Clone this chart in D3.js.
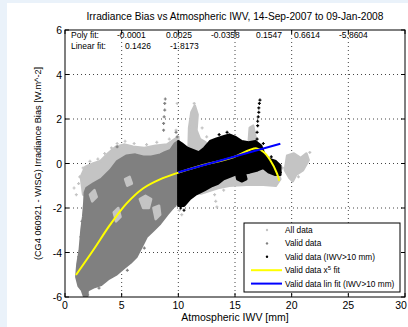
<!DOCTYPE html>
<html><head><meta charset="utf-8">
<script src="https://cdn.jsdelivr.net/npm/d3@7"></script>
<style>
html,body{margin:0;padding:0;background:#eaf2fa;}
svg{display:block;}
text{font-family:"Liberation Sans",Arial,Helvetica,sans-serif;fill:#000;}
</style></head>
<body>
<svg id="c" width="408" height="327"></svg>
<script>
// ---- data ----
const title = "Irradiance Bias vs Atmospheric IWV, 14-Sep-2007 to 09-Jan-2008";
const xLabel = "Atmospheric IWV [mm]";
const yLabel = "(CG4 060921 - WISG) Irradiance Bias [W.m^-2]";
const xTicks = [0, 5, 10, 15, 20, 25, 30];
const yTicks = [-6, -4, -2, 0, 2, 4, 6];
const polyLabel = "Poly fit:";
const polyCoefs = ["-0.0001", "0.0025", "-0.0358", "0.1547", "0.6614", "-5.8604"];
const linLabel = "Linear fit:";
const linCoefs = ["0.1426", "-1.8173"];

// dense cloud outlines (data units [IWV, bias])
const allDataRegions = [
  [[1.6,-1.4],[1.4,-0.6],[1.8,-0.15],[2.5,0.0],[3.1,0.1],[3.8,0.45],[4.5,0.75],[5.2,0.85],[6.0,0.75],[7.0,0.7],[8.0,0.8],[9.0,0.85],[10,1.2],
   [10,-1.0],[9.0,-1.0],[6.0,-1.0],[4.0,-1.0],[2.0,-1.5]],
  [[10.3,-1.3],[12,-1.35],[13.5,-1.1],[14.5,-1.0],[16,-0.95],[17.5,-0.95],[18.6,-1.0],[19.0,-0.7],[18.7,-0.2],[17,-0.2],[15.5,-0.1],[14,-0.2],[12,-0.4],[10.3,-0.5]],
  [[10.9,0.6],[10.95,1.6],[11.15,2.3],[11.45,2.6],[11.7,2.2],[11.6,1.5],[11.9,1.1],[12.4,0.95],[12.8,0.6]],
  [[19.4,-0.3],[19.6,0.35],[20.2,0.45],[20.8,0.25],[21.3,0.45],[21.5,0.15],[21.0,-0.3],[20.4,-0.5],[20.1,-0.8],[19.8,-0.65]],
  [[16.2,0.9],[16.3,1.6],[16.6,1.7],[16.8,1.2],[16.9,0.9]]
];
const validRegions = [
  [[1.7,-6.0],[1.95,-6.0],[2.0,-5.7],[2.6,-5.55],[3.2,-5.45],[3.8,-5.2],[4.5,-5.0],[5.2,-4.7],[5.8,-4.45],[6.3,-4.2],[6.8,-3.7],[7.2,-3.3],[7.8,-3.0],[8.4,-2.7],[9.0,-2.3],[9.5,-2.0],[10.0,-1.7],
   [10.0,1.0],[9.7,0.9],[9.3,0.6],[8.8,0.5],[8.4,0.4],[7.6,0.3],[6.9,0.3],[6.2,0.4],[5.4,0.35],[4.6,0.1],[4.0,-0.3],[3.2,-0.7],[2.5,-0.9],[1.9,-1.1],
   [1.75,-1.3],[1.7,-1.8],[1.6,-2.4],[1.45,-3.0],[1.3,-3.9],[1.1,-4.5],[1.0,-5.1],[1.2,-5.5],[1.5,-5.7]]
];
const validGaps = [
  [[6.6,-1.6],[7.1,-1.45],[7.6,-1.6],[7.4,-2.0],[6.9,-2.0]],
  [[7.8,-2.0],[8.3,-1.9],[8.4,-2.3],[8.0,-2.5]],
  [[5.3,-0.7],[5.7,-0.6],[5.9,-0.9],[5.5,-1.0]],
  [[4.3,-2.2],[4.7,-2.0],[4.9,-2.4],[4.5,-2.6]],
  [[2.2,-1.4],[2.6,-1.2],[2.8,-1.5],[2.4,-1.7]]
];
const wetRegions = [
  [[10.0,1.0],[10.3,0.9],[10.8,0.7],[11.3,0.6],[11.8,0.5],[12.3,0.7],[12.8,1.0],[13.3,1.1],[13.9,1.2],[14.5,1.3],[15.0,1.2],[15.6,1.0],[16.2,0.95],[16.8,1.0],[17.3,0.8],[17.6,0.4],[18.0,0.2],[18.6,0.1],[19.0,-0.1],
   [19.0,-0.5],[18.5,-0.5],[18.0,-0.4],[17.5,-0.2],[17.0,-0.3],[16.3,-0.4],[15.7,-0.45],[15.0,-0.5],[14.5,-0.6],[14.0,-0.7],[13.5,-0.9],[13.0,-1.0],[12.3,-1.2],[11.5,-1.4],[11.0,-1.6],[10.5,-1.9],[10.0,-1.9]],
  [[15.1,-0.45],[15.4,-0.4],[15.9,-0.5],[16.0,-0.7],[15.6,-0.8],[15.2,-0.7]]
];
const allDataPoints = [[0.8,-1.1],[1.0,-1.4],[1.2,-0.9],[1.3,-0.6],[1.6,-0.2],[2.2,0.1],[2.9,0.2],[3.5,0.45],[4.1,0.7],[4.6,0.9],[5.3,1.0],[6.1,0.9],[7.2,0.85],[8.1,0.95],[9.2,1.1],[9.8,1.5],[10.1,-2.1],[10.3,-2.3],[13.2,-1.4],[13.3,-1.7],[13.4,-1.95],[14.0,-1.2],[12.1,1.6],[12.5,1.2],[19.2,-0.2],[21.6,0.5],[20.6,-0.6],[9.9,2.7],[11.4,2.7],[8.9,-2.2],[9.6,-1.9],[7.6,-2.9]];
const validPoints = [[8.7,1.5],[8.7,1.8],[8.75,2.1],[8.8,2.4],[8.8,2.7],[8.85,2.9],[4.6,0.75],[2.0,-5.9],[1.8,-5.8],[3.0,-5.6],[5.5,-4.8],[7.0,-3.8],[9.7,-1.9],[9.9,1.2],[9.8,1.4],[1.5,-2.6],[1.4,-3.3],[1.2,-4.2]];
const wetPoints = [[16.95,1.1],[16.95,1.4],[17.0,1.7],[17.0,1.9],[17.05,2.1],[17.1,2.3],[17.1,2.5],[17.15,2.7],[17.2,2.85],[18.9,-0.2],[19.0,-0.4],[10.2,-2.0],[10.5,-2.1],[15.3,-0.6],[15.6,-0.7],[14.3,1.4],[13.6,1.3],[17.5,0.9],[18.2,0.3]];
// fitted curves
const polyFitCurve = [[0.97,-5.01],[2.5,-3.89],[3.97,-2.76],[5.44,-1.79],[6.91,-1.11],[8.38,-0.71],[10.0,-0.41],[11.9,-0.11],[14.85,0.28],[16.3,0.61],[16.9,0.68],[17.5,0.53],[18.1,0.16],[18.7,-0.44],[18.9,-0.77]];
const linFitLine = [[10.0,-0.39],[19.0,0.89]];
const legendLabels = ["All data", "Valid data", "Valid data (IWV>10 mm)", "Valid data x^5 fit", "Valid data lin fit (IWV>10 mm)"];

// ---- drawing ----
const svg = d3.select("#c");
const W = 408, H = 327;
const m = {l:65, r:405, t:30, b:297};
svg.append("rect").attr("x",7).attr("y",3).attr("width",W-7).attr("height",H-3).attr("fill","#fff");

const x = d3.scaleLinear().domain([0,30]).range([m.l, m.r]);
const y = d3.scaleLinear().domain([-6,6]).range([m.b, m.t]);

const C_ALL = "#c4c4c4", C_VALID = "#808080", C_WET = "#000";

// grid
const g = svg.append("g");
g.selectAll(".gx").data(xTicks.slice(1,-1)).join("line")
  .attr("x1",d=>x(d)).attr("x2",d=>x(d)).attr("y1",m.t).attr("y2",m.b)
  .attr("stroke","#444").attr("stroke-width",1).attr("stroke-dasharray","1,3");
g.selectAll(".gy").data(yTicks.slice(1,-1)).join("line")
  .attr("y1",d=>y(d)).attr("y2",d=>y(d)).attr("x1",m.l).attr("x2",m.r)
  .attr("stroke","#444").attr("stroke-width",1).attr("stroke-dasharray","1,3");

svg.append("clipPath").attr("id","pc").append("rect")
  .attr("x",m.l).attr("y",m.t).attr("width",m.r-m.l).attr("height",m.b-m.t);
const plot = svg.append("g").attr("clip-path","url(#pc)");
const area = d3.line().x(d=>x(d[0])).y(d=>y(d[1])).curve(d3.curveLinearClosed);
function regions(data, col){
  plot.append("g").selectAll("path").data(data).join("path")
    .attr("d",area).attr("fill",col).attr("stroke",col).attr("stroke-width",2.5).attr("stroke-linejoin","round");
}
function points(data, col){
  plot.append("g").selectAll("path").data(data).join("path")
    .attr("d",d=>`M${x(d[0])-1.5},${y(d[1])}h3M${x(d[0])},${y(d[1])-1.5}v3`)
    .attr("stroke",col).attr("stroke-width",1.2);
}
regions(allDataRegions, C_ALL);
points(allDataPoints, C_ALL);
regions(validRegions, C_VALID);
regions(validGaps, C_ALL);
points(validPoints, C_VALID);
regions(wetRegions, C_WET);
points(wetPoints, C_WET);

const ln = d3.line().x(d=>x(d[0])).y(d=>y(d[1])).curve(d3.curveCatmullRom);
plot.append("path").attr("d",ln(polyFitCurve)).attr("fill","none").attr("stroke","#ffff00").attr("stroke-width",2);
plot.append("path").attr("d",d3.line().x(d=>x(d[0])).y(d=>y(d[1]))(linFitLine)).attr("fill","none").attr("stroke","#0000ff").attr("stroke-width",2);

// axes box + ticks (inward, all sides)
svg.append("rect").attr("x",m.l).attr("y",m.t).attr("width",m.r-m.l).attr("height",m.b-m.t)
  .attr("fill","none").attr("stroke","#000").attr("stroke-width",1);
const tk = 4;
svg.append("g").selectAll("path").data(xTicks).join("path")
  .attr("d",d=>`M${x(d)},${m.b}v${-tk}M${x(d)},${m.t}v${tk}`).attr("stroke","#000");
svg.append("g").selectAll("path").data(yTicks).join("path")
  .attr("d",d=>`M${m.l},${y(d)}h${tk}M${m.r},${y(d)}h${-tk}`).attr("stroke","#000");
svg.append("g").selectAll("text").data(xTicks).join("text")
  .attr("x",d=>Math.min(x(d), W-7)).attr("y",m.b+12).attr("text-anchor","middle").attr("font-size",10.5).text(d=>d);
svg.append("g").selectAll("text").data(yTicks).join("text")
  .attr("x",m.l-3).attr("y",d=>y(d)+4).attr("text-anchor","end").attr("font-size",10.5).text(d=>d);

// titles
svg.append("text").attr("x",(m.l+m.r)/2).attr("y",20).attr("text-anchor","middle").attr("font-size",10.2).text(title);
svg.append("text").attr("x",(m.l+m.r)/2).attr("y",321).attr("text-anchor","middle").attr("font-size",10.5).text(xLabel);
svg.append("text").attr("transform",`translate(41,${(m.t+m.b)/2}) rotate(-90)`).attr("text-anchor","middle").attr("font-size",9.2).text(yLabel);

// fit text
const coefX = [117,166,211,256,294,339];
svg.append("text").attr("x",71).attr("y",38).attr("font-size",8.5).text(polyLabel);
svg.append("g").selectAll("text").data(polyCoefs).join("text").attr("x",(d,i)=>coefX[i]).attr("y",38).attr("font-size",8.5).text(d=>d);
const linX = [125,170];
svg.append("text").attr("x",71).attr("y",49).attr("font-size",8.5).text(linLabel);
svg.append("g").selectAll("text").data(linCoefs).join("text").attr("x",(d,i)=>linX[i]).attr("y",49).attr("font-size",8.5).text(d=>d);

// legend
const lg = svg.append("g");
lg.append("rect").attr("x",244).attr("y",223).attr("width",156).attr("height",69).attr("fill","#fff").attr("stroke","#000");
const ly = i => 230 + i*13.4;
const mk = [C_ALL, C_VALID, C_WET];
lg.selectAll("circle").data(mk).join("circle").attr("cx",267).attr("cy",(d,i)=>ly(i)).attr("r",1.2).attr("fill",d=>d);
lg.append("line").attr("x1",251).attr("x2",282).attr("y1",ly(3)).attr("y2",ly(3)).attr("stroke","#ffff00").attr("stroke-width",2);
lg.append("line").attr("x1",251).attr("x2",282).attr("y1",ly(4)).attr("y2",ly(4)).attr("stroke","#0000ff").attr("stroke-width",2);
legendLabels.forEach((t,i)=>{
  const tx = lg.append("text").attr("x",285).attr("y",ly(i)+3).attr("font-size",8.3);
  const mm = t.match(/^(.*)x\^(\d)(.*)$/);
  if(mm){
    tx.append("tspan").text(mm[1]+"x");
    tx.append("tspan").attr("dy",-3).attr("font-size",6).text(mm[2]);
    tx.append("tspan").attr("dy",3).text(mm[3]);
  } else tx.text(t);
});
</script>
</body></html>
